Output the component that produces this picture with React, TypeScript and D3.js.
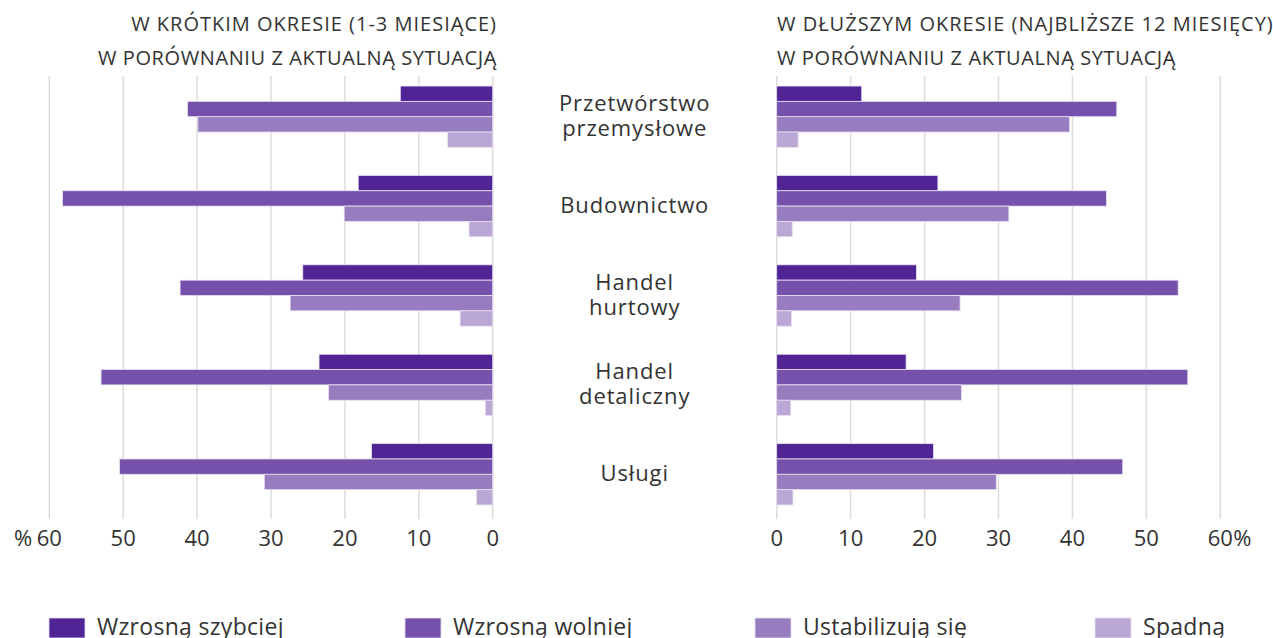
import React from "react";
import * as d3 from "d3";

// sectors, top to bottom
const categories = [
  ["Przetwórstwo", "przemysłowe"],
  ["Budownictwo"],
  ["Handel", "hurtowy"],
  ["Handel", "detaliczny"],
  ["Usługi"],
];

const seriesNames = ["Wzrosną szybciej", "Wzrosną wolniej", "Ustabilizują się", "Spadną"];
const seriesColors = ["#512496", "#7551ab", "#977cbf", "#baa7d5"];

// short term (1-3 months), % of answers, per series
const shortFaster = [12.5, 18.2, 25.7, 23.5, 16.4];
const shortSlower = [41.3, 58.2, 42.3, 53.0, 50.5];
const shortStable = [39.9, 20.1, 27.4, 22.2, 30.9];
const shortFall = [6.1, 3.2, 4.4, 1.0, 2.2];

// longer term (next 12 months)
const longFaster = [11.5, 21.8, 18.9, 17.5, 21.2];
const longSlower = [46.0, 44.6, 54.3, 55.6, 46.8];
const longStable = [39.6, 31.4, 24.8, 25.0, 29.7];
const longFall = [2.9, 2.1, 2.0, 1.9, 2.2];

const ticks = [0, 10, 20, 30, 40, 50, 60];

const leftTitle = ["W KRÓTKIM OKRESIE (1-3 MIESIĄCE)", "W PORÓWNANIU Z AKTUALNĄ SYTUACJĄ"];
const rightTitle = ["W DŁUŻSZYM OKRESIE (NAJBLIŻSZE 12 MIESIĘCY)", "W PORÓWNANIU Z AKTUALNĄ SYTUACJĄ"];

const W = 1273;
const H = 638;
const FONT = "'Open Sans', 'Noto Sans', sans-serif";
const TEXT = "#333";

export default function App() {
  const keys = categories.map((c) => c.join(" "));

  const y = d3.scaleBand<string>()
    .domain(keys)
    .range([72, 519])
    .paddingInner(0.314)
    .paddingOuter(0.157);

  const ys = d3.scaleBand<number>()
    .domain([0, 1, 2, 3])
    .range([0, y.bandwidth()]);

  const xLeft = d3.scaleLinear().domain([0, 60]).range([492.7, 49.3]);
  const xRight = d3.scaleLinear().domain([0, 60]).range([776.7, 1220.3]);

  const shortSeries = [shortFaster, shortSlower, shortStable, shortFall];
  const longSeries = [longFaster, longSlower, longStable, longFall];

  const gridTop = 76;
  const gridBottom = 519;

  const legendX = [49, 405, 755, 1095];
  const titleSpacing = [1.0, 0.6]; // second line is a bit tighter in the original

  return (
    <svg width={W} height={H} style={{ position: "absolute", left: 0, top: 0 }} fontFamily={FONT}>
      <rect width={W} height={H} fill="#fff" />

      {/* gridlines */}
      {ticks.map((t) => (
        <g key={"g" + t}>
          <line x1={xLeft(t)} x2={xLeft(t)} y1={gridTop} y2={gridBottom} stroke="#dcdcdc" strokeWidth={1.5} />
          <line x1={xRight(t)} x2={xRight(t)} y1={gridTop} y2={gridBottom} stroke="#dcdcdc" strokeWidth={1.5} />
        </g>
      ))}

      {/* bars */}
      {keys.map((k, i) => (
        <g key={k}>
          {shortSeries.map((s, j) => (
            <rect
              key={"s" + j}
              x={xLeft(s[i])}
              y={(y(k) ?? 0) + (ys(j) ?? 0)}
              width={xLeft(0) - xLeft(s[i])}
              height={ys.bandwidth()}
              fill={seriesColors[j]}
              stroke="#e6e0ef"
              strokeWidth={0.8}
            />
          ))}
          {longSeries.map((s, j) => (
            <rect
              key={"l" + j}
              x={xRight(0)}
              y={(y(k) ?? 0) + (ys(j) ?? 0)}
              width={xRight(s[i]) - xRight(0)}
              height={ys.bandwidth()}
              fill={seriesColors[j]}
              stroke="#e6e0ef"
              strokeWidth={0.8}
            />
          ))}
        </g>
      ))}

      {/* category labels */}
      {categories.map((lines, i) => {
        const cy = (y(keys[i]) ?? 0) + y.bandwidth() / 2;
        const lh = 25;
        const top = cy - ((lines.length - 1) * lh) / 2;
        return (
          <g key={keys[i]}>
            {lines.map((l, n) => (
              <text key={n} x={634.7} y={top + n * lh + 7} textAnchor="middle" fontSize={22} fill={TEXT} letterSpacing={0.9}>
                {l}
              </text>
            ))}
          </g>
        );
      })}

      {/* titles */}
      {leftTitle.map((t, n) => (
        <text key={"lt" + n} x={497} y={31 + n * 34} textAnchor="end" fontSize={20} fill={TEXT} letterSpacing={titleSpacing[n]}>
          {t}
        </text>
      ))}
      {rightTitle.map((t, n) => (
        <text key={"rt" + n} x={777} y={31 + n * 34} textAnchor="start" fontSize={20} fill={TEXT} letterSpacing={titleSpacing[n]}>
          {t}
        </text>
      ))}

      {/* tick labels */}
      {ticks.map((t) => (
        <g key={"t" + t} fontSize={22} fill={TEXT}>
          <text x={xLeft(t)} y={546} textAnchor="middle">{t}</text>
          <text x={xRight(t)} y={546} textAnchor="middle">{t}</text>
        </g>
      ))}
      <text x={xLeft(60) - 17} y={546} textAnchor="end" fontSize={22} fill={TEXT}>%</text>
      <text x={xRight(60) + 13} y={546} textAnchor="start" fontSize={22} fill={TEXT}>%</text>

      {/* legend (cut by the bottom edge, as in the original) */}
      {seriesNames.map((name, j) => (
        <g key={name} transform={`translate(${legendX[j]},0)`}>
          <rect x={0} y={618} width={36} height={20} fill={seriesColors[j]} stroke="#e6e0ef" strokeWidth={0.8} />
          <text x={48} y={635} fontSize={23} fill={TEXT} letterSpacing={0.3}>{name}</text>
        </g>
      ))}
    </svg>
  );
}
